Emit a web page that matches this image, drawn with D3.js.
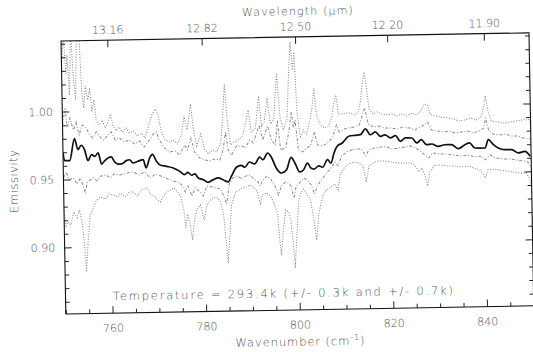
<!DOCTYPE html>
<html>
<head>
<meta charset="utf-8">
<script src="https://cdnjs.cloudflare.com/ajax/libs/d3/7.8.5/d3.min.js"></script>
<style>
  body { margin: 0; background: #fff; }
  svg text { font-family: "DejaVu Sans", sans-serif; fill: #505050; font-weight: 300; }
</style>
</head>
<body>
<script>
// ---- data ----
const wnTicks = [760, 780, 800, 820, 840];            // wavenumber (cm-1)
const wlTicks = ["13.16", "12.82", "12.50", "12.20", "11.90"]; // wavelength (um)
const emisTicks = [0.90, 0.95, 1.00];
const tempText = "Temperature = 293.4k (+/- 0.3k and +/- 0.7k)";

// retrieved emissivity at 293.4 K (solid)
const emisMain = [[750.0,0.9696],[750.3,0.9639],[751.4,0.9638],[752.5,0.9799],[753.2,0.9718],[753.9,0.9750],[754.6,0.9717],[755.3,0.9636],[756.1,0.9679],[756.8,0.9667],[757.5,0.9691],[758.2,0.9609],[758.9,0.9634],[760.3,0.9660],[761.0,0.9623],[761.7,0.9607],[762.5,0.9607],[763.5,0.9631],[764.2,0.9637],[764.9,0.9613],[766.0,0.9625],[767.1,0.9636],[767.7,0.9575],[768.5,0.9648],[769.1,0.9673],[769.9,0.9625],[770.6,0.9597],[772.1,0.9584],[773.5,0.9571],[774.9,0.9545],[775.9,0.9520],[776.6,0.9537],[777.4,0.9515],[778.1,0.9524],[778.8,0.9494],[779.9,0.9481],[780.9,0.9461],[782.0,0.9480],[783.1,0.9492],[784.1,0.9478],[785.2,0.9461],[785.9,0.9503],[787.0,0.9568],[788.0,0.9582],[788.8,0.9567],[789.8,0.9605],[790.9,0.9590],[792.0,0.9639],[792.7,0.9620],[793.7,0.9669],[794.5,0.9637],[795.5,0.9558],[796.6,0.9520],[797.7,0.9544],[798.7,0.9634],[799.5,0.9592],[800.5,0.9525],[801.3,0.9539],[802.2,0.9590],[802.9,0.9553],[803.6,0.9545],[804.6,0.9567],[805.4,0.9557],[806.5,0.9612],[807.2,0.9587],[807.9,0.9661],[808.6,0.9710],[809.7,0.9733],[811.1,0.9782],[812.5,0.9788],[813.6,0.9792],[814.7,0.9835],[815.7,0.9790],[816.8,0.9810],[817.9,0.9777],[818.9,0.9788],[820.0,0.9764],[821.1,0.9780],[822.1,0.9738],[823.2,0.9762],[824.6,0.9761],[825.6,0.9724],[826.6,0.9747],[827.7,0.9710],[828.8,0.9714],[830.2,0.9696],[831.6,0.9707],[833.0,0.9707],[834.5,0.9676],[835.9,0.9705],[836.9,0.9717],[838.0,0.9679],[840.2,0.9678],[840.9,0.9739],[842.0,0.9701],[843.0,0.9676],[844.4,0.9663],[845.9,0.9662],[847.3,0.9637],[848.7,0.9648],[849.8,0.9611]];

// upper outer curve (0.7 K, dotted, peaks)
const emisOuterHi = [[750.0,1.0307],[750.45,1.0601],[750.9,1.0269],[751.2,1.0416],[751.6,1.0122],[752.05,1.0600],[752.5,1.0232],[752.9,1.0084],[753.3,1.0600],[753.8,1.0600],[754.2,1.0157],[754.6,1.0024],[755.0,1.0186],[755.5,1.0082],[755.9,1.0171],[756.3,0.9994],[756.8,1.0082],[757.2,0.9934],[757.8,0.9897],[758.5,0.9933],[759.1,0.9874],[759.8,0.9918],[760.3,0.9976],[760.8,0.9888],[761.5,0.9851],[762.1,0.9880],[762.7,0.9842],[763.6,0.9871],[764.2,0.9834],[765.1,0.9848],[766.0,0.9811],[766.8,0.9833],[767.6,0.9795],[768.5,0.9898],[769.2,0.9971],[769.9,1.0008],[770.4,0.9970],[771.1,0.9837],[771.9,0.9778],[772.8,0.9763],[773.6,0.9777],[774.5,0.9747],[775.3,0.9805],[776.0,0.9952],[776.6,0.9849],[777.4,1.0040],[777.9,0.9863],[778.6,0.9730],[779.5,0.9818],[780.3,0.9699],[781.1,0.9669],[782.0,0.9698],[782.8,0.9683],[783.7,0.9741],[784.2,0.9918],[784.7,1.0183],[785.2,0.9917],[785.8,0.9733],[786.7,0.9754],[787.5,0.9769],[788.4,0.9798],[789.0,0.9878],[789.7,0.9988],[790.3,0.9826],[791.2,0.9855],[792.0,1.0090],[792.5,0.9869],[793.1,0.9898],[793.8,1.0074],[794.4,0.9882],[795.1,0.9911],[795.9,1.0257],[796.5,0.9925],[797.2,0.9836],[798.0,0.9924],[798.4,1.0204],[798.9,1.0483],[799.3,1.0277],[799.7,1.0409],[800.1,0.9982],[800.8,0.9775],[801.4,0.9834],[802.1,0.9804],[802.7,0.9877],[803.3,0.9980],[803.8,1.0142],[804.3,0.9943],[805.1,0.9868],[806.0,0.9846],[806.8,0.9860],[807.5,0.9919],[808.0,1.0021],[808.5,1.0087],[809.0,0.9947],[809.7,0.9947],[810.6,0.9954],[811.5,0.9953],[812.3,0.9938],[813.2,0.9959],[813.8,1.0047],[814.2,1.0180],[814.6,1.0253],[815.0,1.0157],[815.5,0.9987],[816.4,0.9943],[817.2,0.9957],[818.3,0.9942],[819.4,0.9934],[820.4,0.9940],[821.5,0.9925],[822.6,0.9939],[823.6,0.9924],[824.7,0.9945],[825.8,0.9930],[826.6,0.9959],[827.4,1.0010],[828.0,1.0002],[828.6,0.9935],[829.6,0.9920],[830.9,0.9912],[832.2,0.9904],[833.5,0.9896],[834.7,0.9880],[836.0,0.9887],[837.3,0.9901],[838.4,0.9885],[839.4,0.9907],[840.0,0.9973],[840.4,1.0061],[840.9,0.9957],[841.6,0.9876],[842.9,0.9868],[844.4,0.9859],[845.6,0.9866],[846.9,0.9873],[848.2,0.9879],[849.3,0.9893],[850.0,0.9863]];

// upper inner curve (0.3 K, dash-dot)
const emisInnerHi = [[750.0,0.9902],[750.6,1.0026],[751.0,0.9879],[751.6,0.9952],[752.3,0.9863],[752.9,0.9922],[753.5,0.9826],[754.2,0.9899],[755.0,0.9877],[755.7,0.9832],[756.4,0.9802],[757.2,0.9846],[757.8,0.9816],[758.7,0.9786],[759.5,0.9815],[760.4,0.9844],[761.2,0.9784],[762.1,0.9799],[763.2,0.9769],[764.2,0.9783],[765.3,0.9753],[766.4,0.9774],[767.4,0.9729],[768.5,0.9780],[769.4,0.9824],[770.0,0.9838],[770.6,0.9779],[771.7,0.9719],[772.8,0.9689],[773.9,0.9696],[774.9,0.9666],[776.0,0.9739],[776.6,0.9702],[777.4,0.9789],[778.1,0.9686],[779.2,0.9641],[780.3,0.9626],[781.3,0.9618],[782.4,0.9632],[783.5,0.9624],[784.2,0.9697],[784.8,0.9829],[785.3,0.9696],[786.0,0.9659],[787.1,0.9725],[788.2,0.9724],[789.0,0.9709],[789.9,0.9767],[790.7,0.9745],[792.0,0.9876],[792.7,0.9765],[793.8,0.9868],[794.6,0.9764],[795.4,0.9727],[795.9,0.9911],[796.5,0.9690],[797.6,0.9704],[798.4,0.9836],[798.9,0.9968],[799.3,0.9850],[799.7,0.9909],[800.3,0.9687],[801.2,0.9672],[802.1,0.9701],[802.9,0.9715],[803.8,0.9818],[804.4,0.9722],[805.5,0.9714],[806.5,0.9735],[807.6,0.9771],[808.5,0.9866],[809.1,0.9815],[810.2,0.9836],[811.2,0.9843],[812.3,0.9849],[813.4,0.9863],[814.6,0.9988],[815.3,0.9870],[816.4,0.9847],[817.6,0.9853],[818.9,0.9838],[820.2,0.9837],[821.5,0.9829],[822.8,0.9843],[824.1,0.9835],[825.3,0.9819],[826.4,0.9841],[827.5,0.9862],[828.0,0.9877],[828.8,0.9817],[830.0,0.9809],[831.3,0.9801],[832.6,0.9808],[833.9,0.9792],[835.2,0.9799],[836.5,0.9805],[837.7,0.9790],[839.0,0.9804],[840.0,0.9825],[840.4,0.9899],[841.0,0.9810],[842.0,0.9780],[843.3,0.9772],[844.6,0.9778],[845.9,0.9763],[847.1,0.9762],[848.4,0.9747],[850.0,0.9738]];

// lower inner curve (0.3 K, dash-dot)
const emisInnerLo = [[750.0,0.9511],[750.6,0.9555],[751.2,0.9496],[752.1,0.9510],[752.9,0.9465],[753.6,0.9509],[754.2,0.9450],[754.6,0.9405],[755.1,0.9479],[755.7,0.9493],[756.4,0.9508],[757.2,0.9485],[758.0,0.9521],[759.1,0.9528],[760.0,0.9505],[760.8,0.9534],[762.1,0.9526],[763.5,0.9540],[764.9,0.9547],[766.2,0.9524],[767.4,0.9545],[768.5,0.9500],[769.8,0.9529],[771.3,0.9506],[772.8,0.9483],[774.2,0.9467],[775.1,0.9452],[776.0,0.9393],[776.6,0.9436],[777.4,0.9362],[778.1,0.9421],[779.2,0.9391],[779.8,0.9361],[780.6,0.9434],[781.8,0.9426],[782.8,0.9418],[783.5,0.9410],[784.2,0.9358],[784.8,0.9299],[785.4,0.9446],[786.2,0.9490],[787.1,0.9504],[788.2,0.9481],[789.0,0.9503],[789.9,0.9509],[790.7,0.9479],[791.6,0.9457],[792.0,0.9427],[792.6,0.9471],[793.5,0.9500],[794.4,0.9470],[795.2,0.9425],[795.9,0.9359],[796.5,0.9424],[797.4,0.9453],[798.0,0.9446],[798.6,0.9423],[799.2,0.9334],[799.7,0.9423],[800.6,0.9451],[801.4,0.9480],[802.3,0.9458],[802.9,0.9428],[803.6,0.9361],[804.2,0.9420],[805.1,0.9463],[806.1,0.9507],[807.2,0.9551],[808.1,0.9594],[808.7,0.9564],[809.5,0.9637],[810.6,0.9666],[811.7,0.9680],[812.7,0.9687],[813.8,0.9686],[814.7,0.9634],[815.3,0.9678],[816.6,0.9692],[817.9,0.9699],[819.2,0.9698],[820.4,0.9682],[821.7,0.9689],[823.0,0.9696],[824.3,0.9702],[825.3,0.9687],[826.4,0.9664],[827.5,0.9627],[828.1,0.9611],[829.0,0.9648],[830.5,0.9640],[832.0,0.9639],[833.5,0.9630],[835.0,0.9622],[836.5,0.9629],[838.0,0.9613],[839.2,0.9620],[840.2,0.9590],[841.2,0.9626],[842.4,0.9603],[843.9,0.9595],[845.4,0.9594],[846.9,0.9585],[848.4,0.9577],[849.3,0.9569],[850.0,0.9525]];

// lower outer curve (0.7 K, dotted, dips)
const emisOuterLo = [[750.0,0.9276],[750.4,0.9158],[750.8,0.9187],[751.4,0.9164],[752.1,0.9260],[752.8,0.9215],[753.3,0.9274],[753.8,0.9185],[754.2,0.9052],[754.6,0.8816],[755.1,0.9067],[755.6,0.9236],[756.1,0.9272],[756.8,0.9331],[757.8,0.9367],[758.9,0.9351],[759.7,0.9388],[760.7,0.9380],[761.5,0.9364],[762.1,0.9394],[763.2,0.9364],[764.0,0.9400],[764.9,0.9399],[765.7,0.9369],[766.6,0.9413],[767.8,0.9427],[768.5,0.9382],[769.4,0.9367],[770.0,0.9337],[770.6,0.9322],[771.3,0.9366],[772.1,0.9395],[772.8,0.9409],[773.5,0.9424],[774.3,0.9394],[774.9,0.9371],[775.6,0.9260],[776.0,0.9128],[776.4,0.9230],[776.8,0.9171],[777.4,0.9038],[777.8,0.9171],[778.3,0.9259],[779.2,0.9295],[779.9,0.9184],[780.5,0.9287],[781.3,0.9330],[782.2,0.9352],[782.8,0.9344],[783.5,0.9315],[784.1,0.9218],[784.5,0.9034],[784.9,0.8864],[785.4,0.9092],[785.8,0.9291],[786.7,0.9386],[787.5,0.9400],[788.2,0.9415],[789.0,0.9422],[789.9,0.9436],[790.7,0.9413],[791.4,0.9383],[792.0,0.9287],[792.4,0.9361],[793.3,0.9375],[794.2,0.9352],[795.0,0.9285],[795.6,0.9226],[796.0,0.9027],[796.3,0.8916],[796.8,0.9100],[797.4,0.9247],[798.0,0.9232],[798.4,0.9173],[798.9,0.8989],[799.2,0.8819],[799.6,0.9025],[800.2,0.9319],[800.8,0.9378],[801.3,0.9399],[802.1,0.9355],[802.7,0.9318],[803.3,0.9185],[803.9,0.9022],[804.4,0.9206],[805.1,0.9316],[805.7,0.9375],[806.5,0.9396],[807.4,0.9418],[808.0,0.9432],[808.6,0.9388],[809.1,0.9498],[810.0,0.9549],[811.0,0.9578],[812.1,0.9592],[813.2,0.9584],[814.0,0.9561],[814.7,0.9443],[815.3,0.9560],[816.4,0.9589],[817.6,0.9596],[818.9,0.9595],[820.2,0.9587],[821.5,0.9579],[822.8,0.9578],[824.1,0.9577],[825.1,0.9562],[826.0,0.9510],[826.6,0.9539],[827.3,0.9480],[827.8,0.9406],[828.3,0.9508],[829.2,0.9552],[830.5,0.9559],[832.0,0.9550],[833.5,0.9549],[835.0,0.9541],[836.5,0.9548],[837.7,0.9532],[839.0,0.9517],[839.7,0.9487],[840.2,0.9457],[840.7,0.9516],[842.0,0.9522],[843.3,0.9514],[844.8,0.9506],[846.3,0.9497],[847.6,0.9489],[848.9,0.9489],[849.5,0.9451],[850.0,0.9392]];

// ---- layout ----
const W = 533, H = 352;
const box = {left: 63.4, right: 531.4, top: 36.9, bottom: 309.9};

const x = d3.scaleLinear().domain([750, 850]).range([box.left, box.right]);
const y = d3.scaleLinear().domain([0.851, 1.052]).range([box.bottom, box.top]);

const svg = d3.select("body").append("svg")
    .attr("width", W)
    .attr("height", H);

// the scanned page is tilted by about one degree
const g = svg.append("g")
    .attr("transform", "rotate(-1, 297.4, 173.4)");

g.append("defs").append("clipPath").attr("id", "plotclip")
  .append("rect")
    .attr("x", box.left).attr("y", box.top)
    .attr("width", box.right - box.left).attr("height", box.bottom - box.top);

// curves
const line = d3.line().x(d => x(d[0])).y(d => y(d[1]));
const smooth = d3.line().x(d => x(d[0])).y(d => y(d[1])).curve(d3.curveMonotoneX);

const curves = g.append("g").attr("clip-path", "url(#plotclip)").attr("fill", "none");

[
  {data: emisOuterHi, dash: "1,1.6", color: "#808080"},
  {data: emisOuterLo, dash: "1,1.6", color: "#808080"},
  {data: emisInnerHi, dash: "3,1.8,1,1.8", color: "#8a8a8a"},
  {data: emisInnerLo, dash: "3,1.8,1,1.8", color: "#8a8a8a"}
].forEach(s => {
  curves.append("path")
      .datum(s.data)
      .attr("d", line)
      .attr("stroke", s.color)
      .attr("stroke-width", 1)
      .attr("stroke-dasharray", s.dash);
});

curves.append("path")
    .datum(emisMain)
    .attr("d", smooth)
    .attr("stroke", "#111")
    .attr("stroke-width", 1.7);

// axes (IDL style: ticks point inwards)
const minorX = d3.range(750, 851, 5).filter(v => v % 20 !== 0);
const minorY = d3.range(86, 106).map(v => v / 100).filter(v => !emisTicks.some(t => Math.abs(t - v) < 1e-6));

function styleAxis(sel) {
  sel.select(".domain").remove();
  sel.selectAll(".tick line").attr("stroke", "#222");
  sel.selectAll("text").attr("font-size", 11).attr("fill", "#505050");
}

g.append("g")
    .attr("transform", `translate(0,${box.bottom})`)
    .call(d3.axisBottom(x).tickValues(wnTicks).tickSize(-7).tickPadding(11).tickFormat(d3.format("d")))
    .call(styleAxis);
g.append("g")
    .attr("transform", `translate(0,${box.bottom})`)
    .call(d3.axisBottom(x).tickValues(minorX).tickSize(-4).tickFormat(""))
    .call(styleAxis);

g.append("g")
    .attr("transform", `translate(0,${box.top})`)
    .call(d3.axisTop(x).tickValues(wlTicks.map(l => 1e4 / +l)).tickSize(-7).tickPadding(6.5)
      .tickFormat((d, i) => wlTicks[i]))
    .call(styleAxis);

g.append("g")
    .attr("transform", `translate(${box.left},0)`)
    .call(d3.axisLeft(y).tickValues(emisTicks).tickSize(-7).tickPadding(9.4).tickFormat(d3.format(".2f")))
    .call(styleAxis);
g.append("g")
    .attr("transform", `translate(${box.left},0)`)
    .call(d3.axisLeft(y).tickValues(minorY).tickSize(-4).tickFormat(""))
    .call(styleAxis);

g.append("g")
    .attr("transform", `translate(${box.right},0)`)
    .call(d3.axisRight(y).tickValues(emisTicks).tickSize(-7).tickFormat(""))
    .call(styleAxis);
g.append("g")
    .attr("transform", `translate(${box.right},0)`)
    .call(d3.axisRight(y).tickValues(minorY).tickSize(-4).tickFormat(""))
    .call(styleAxis);

// frame
g.append("rect")
    .attr("x", box.left).attr("y", box.top)
    .attr("width", box.right - box.left).attr("height", box.bottom - box.top)
    .attr("fill", "none")
    .attr("stroke", "#111")
    .attr("stroke-width", 1.1);

// titles
g.append("text")
    .attr("x", 300.2).attr("y", 15)
    .attr("text-anchor", "middle")
    .attr("font-size", 11)
    .attr("textLength", 111).attr("lengthAdjust", "spacing")
    .text("Wavelength (\u03bcm)");

const xt = g.append("text")
    .attr("x", 297.5).attr("y", 345.7)
    .attr("text-anchor", "middle")
    .attr("font-size", 11.5)
    .attr("letter-spacing", 0.9);
xt.append("tspan").text("Wavenumber (cm");
xt.append("tspan").attr("font-size", 8).attr("dy", -5).text("-1");
xt.append("tspan").attr("dy", 5).text(")");

g.append("text")
    .attr("transform", "translate(17.5,176.5) rotate(-90)")
    .attr("text-anchor", "middle")
    .attr("font-size", 11.5)
    .attr("textLength", 63).attr("lengthAdjust", "spacing")
    .text("Emissivity");

g.append("text")
    .attr("x", 110.9).attr("y", 297)
    .attr("font-size", 11.5)
    .attr("textLength", 340).attr("lengthAdjust", "spacing")
    .text(tempText);
</script>
</body>
</html>
